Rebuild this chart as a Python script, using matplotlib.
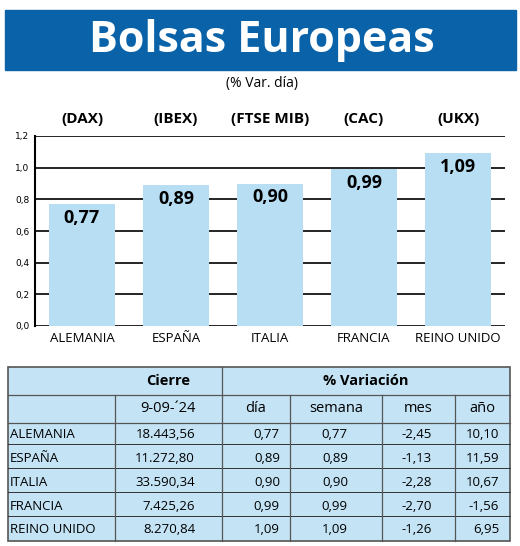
import matplotlib
matplotlib.use("Agg")
import matplotlib.pyplot as plt
from matplotlib.patches import Rectangle

countries = ["ALEMANIA", "ESPAÑA", "ITALIA", "FRANCIA", "REINO UNIDO"]
indices = ["(DAX)", "(IBEX)", "(FTSE MIB)", "(CAC)", "(UKX)"]
dia = [0.77, 0.89, 0.90, 0.99, 1.09]
cierre = ["18.443,56", "11.272,80", "33.590,34", "7.425,26", "8.270,84"]
semana = ["0,77", "0,89", "0,90", "0,99", "1,09"]
mes = ["-2,45", "-1,13", "-2,28", "-2,70", "-1,26"]
anio = ["10,10", "11,59", "10,67", "-1,56", "6,95"]
yticks = [0.0, 0.2, 0.4, 0.6, 0.8, 1.0, 1.2]

W, H = 520, 546
fig = plt.figure(figsize=(W/100, H/100), dpi=100)
fam = ["Open Sans", "DejaVu Sans"]

def fx(x): return x / W
def fy(y): return 1 - y / H

# title bar
fig.patches.append(Rectangle((fx(5), fy(70)), fx(511), 60/H, transform=fig.transFigure,
                             color="#0a63a8", zorder=0))
fig.text(fx(262), fy(40), "Bolsas Europeas", color="white", fontsize=31, fontweight="bold",
         ha="center", va="center", family=fam)
fig.text(fx(262), fy(83), "(% Var. día)", fontsize=10, ha="center", va="center", family=fam)

ax = fig.add_axes([fx(35), fy(326), fx(470), (326-136)/H])
x = list(range(len(countries)))
ax.set_xlim(-0.5, 4.5)
ax.set_ylim(0, 1.2)
ax.bar(x, dia, width=0.71, color="#b8def4", zorder=3)
for t in yticks:
    ax.axhline(t, color="black", lw=1.2, zorder=1)
for xi, v in zip(x, dia):
    ax.text(xi, v - 0.03, f"{v:.2f}".replace(".", ","), ha="center", va="top",
            fontsize=13, fontweight="bold", zorder=4, family=fam)
for xi, lab in zip(x, indices):
    ax.text(xi, 1.305, lab, ha="center", va="center", fontsize=11, fontweight="bold", family=fam)
ax.set_yticks(yticks)
ax.set_yticklabels([f"{t:.1f}".replace(".", ",") for t in yticks], fontsize=6.5)
ax.set_xticks(x)
ax.set_xticklabels(countries, fontsize=9.5, family=fam)
ax.tick_params(length=0, pad=4)
for s in ["top", "right", "bottom"]:
    ax.spines[s].set_visible(False)
ax.spines["left"].set_linewidth(1.5)

# table
tx0, tx1 = 8, 510
ty = [367, 395, 423, 446, 470, 494, 518, 541]
fig.patches.append(Rectangle((fx(tx0), fy(ty[-1])), fx(tx1-tx0), (ty[-1]-ty[0])/H,
                             transform=fig.transFigure, facecolor="#c4e4f6",
                             edgecolor="#555555", lw=1.2, zorder=0))
def hl(y, x0, x1, c="#555555", lw=0.9):
    fig.add_artist(plt.Line2D([fx(x0), fx(x1)], [fy(y), fy(y)], color=c, lw=lw))
def vl(x_, y0, y1):
    fig.add_artist(plt.Line2D([fx(x_), fx(x_)], [fy(y0), fy(y1)], color="#555555", lw=0.9))
hl(ty[1], tx0, tx1)
hl(ty[2], tx0, tx1)
for y in ty[3:-1]:
    hl(y - 2, tx0, tx1, c="#333333", lw=0.7)
vl(222, ty[0], ty[-1])
for xv in [115, 290, 382, 455]:
    vl(xv, ty[1], ty[-1])
fig.text(fx(168), fy(381), "Cierre", fontsize=10.5, fontweight="bold", ha="center", va="center", family=fam)
fig.text(fx(366), fy(381), "% Variación", fontsize=10.5, fontweight="bold", ha="center", va="center", family=fam)
hdr = [(168, "9-09-´24"), (256, "día"), (336, "semana"), (418, "mes"), (482, "año")]
for xv, t in hdr:
    fig.text(fx(xv), fy(409), t, fontsize=10.5, ha="center", va="center", family=fam)
for i in range(5):
    yc = fy((ty[i+2] + ty[i+3]) / 2)
    fig.text(fx(10), yc, countries[i], fontsize=9.5, ha="left", va="center", family=fam)
    fig.text(fx(195), yc, cierre[i], fontsize=9.5, ha="right", va="center", family=fam)
    fig.text(fx(280), yc, f"{dia[i]:.2f}".replace(".", ","), fontsize=9.5, ha="right", va="center", family=fam)
    fig.text(fx(348), yc, semana[i], fontsize=9.5, ha="right", va="center", family=fam)
    fig.text(fx(432), yc, mes[i], fontsize=9.5, ha="right", va="center", family=fam)
    fig.text(fx(499), yc, anio[i], fontsize=9.5, ha="right", va="center", family=fam)

fig.savefig("out.png", dpi=100, facecolor="white")
